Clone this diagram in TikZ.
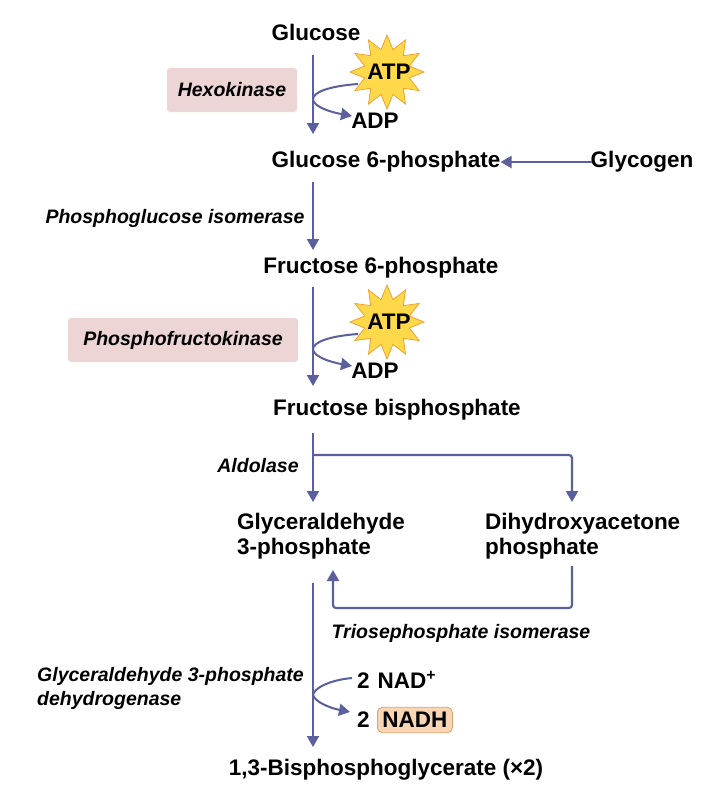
\documentclass[tikz,border=0pt]{standalone}
\usepackage{fontspec}
\setmainfont{Liberation Sans}
\usetikzlibrary{shapes.misc,shapes.geometric,arrows.meta}
\definecolor{arr}{HTML}{5B5F9C}
\definecolor{pinkbox}{HTML}{EDD5D5}
\definecolor{nadhbox}{HTML}{F8D5B3}
\definecolor{nadhline}{HTML}{D9A273}
\definecolor{staryel}{HTML}{FFD94A}
\definecolor{starline}{HTML}{F0A030}
\begin{document}
\begin{tikzpicture}[x=1pt,y=-1pt,
  lab/.style={font=\fontsize{22.5}{25}\selectfont\bfseries,inner sep=0pt},
  enz/.style={font=\fontsize{19.5}{24}\selectfont\bfseries\itshape,inner sep=0pt},
  flow/.style={draw=arr,line width=2.2pt,-{Triangle[length=11pt,width=12pt]}},
  side/.style={draw=arr,line width=2pt,-{Triangle[length=11pt,width=12pt]}},
  ebox/.style={fill=pinkbox,rounded corners=3pt},
  burst/.style={star,star points=12,star point ratio=1.6,minimum size=74pt,fill=staryel,draw=starline,line width=0.8pt,inner sep=0pt}]
\useasboundingbox (0,0) rectangle (718,790);
% nodes
\node[lab] (glc) at (316,32) {Glucose};
\node[ebox,minimum width=130pt,minimum height=44pt] (hkbox) at (232,90) {};
\node[enz] (hk) at (232,90) {Hexokinase};
\node[burst] (s1) at (387,72) {};
\node[lab] (atp1) at (389,72) {ATP};
\node[lab] (adp1) at (375,121) {ADP};
\node[lab] (g6p) at (386,162) {Glucose 6-phosphate};
\node[lab] (gly) at (642,162) {Glycogen};
\node[enz] (pgi) at (175,218) {Phosphoglucose isomerase};
\node[lab] (f6p) at (381,268) {Fructose 6-phosphate};
\node[ebox,minimum width=230pt,minimum height=44pt] (pfkbox) at (183,340) {};
\node[enz] (pfk) at (183,340) {Phosphofructokinase};
\node[burst] (s2) at (387,322) {};
\node[lab] (atp2) at (389,322) {ATP};
\node[lab] (adp2) at (375,371) {ADP};
\node[lab] (fbp) at (397,410) {Fructose bisphosphate};
\node[enz] (ald) at (258,466) {Aldolase};
\node[lab,align=left,anchor=west] (gap) at (237,536) {Glyceraldehyde\\3-phosphate};
\node[lab,align=left,anchor=west] (dhap) at (485,536) {Dihydroxyacetone\\phosphate};
\node[enz] (tpi) at (461,633) {Triosephosphate isomerase};
\node[enz,align=left,anchor=west] (gapdh) at (37,688) {Glyceraldehyde 3-phosphate\\dehydrogenase};
\node[lab,anchor=west] (nad) at (357,680) {2\hspace{8pt}NAD\textsuperscript{+}};
\node[lab,anchor=west] (two) at (357,720) {2};
\node[lab,anchor=west,fill=nadhbox,draw=nadhline,line width=0.8pt,rounded corners=5pt,inner xsep=5pt,inner ysep=5pt] (nadh) at (377,720) {NADH};
\node[lab] (bpg) at (386,770) {1,3-Bisphosphoglycerate (×2)};
% coordinates
\coordinate (a1s) at (313,55); \coordinate (a1e) at (313,134);
\coordinate (a2s) at (313,182); \coordinate (a2e) at (313,250);
\coordinate (a3s) at (313,287); \coordinate (a3e) at (313,386);
\coordinate (a4s) at (313,433); \coordinate (a4e) at (313,502);
\coordinate (a5s) at (313,583); \coordinate (a5e) at (313,747);
\coordinate (gs) at (592,162);
% arrows
\draw[flow] (a1s) -- (a1e);
\draw[side] (358,84) .. controls (330,86) and (312,92) .. (313,100) .. controls (315,107) and (330,112) .. (352,116);
\draw[flow] (gs) -- (g6p.east);
\draw[flow] (a2s) -- (a2e);
\draw[flow] (a3s) -- (a3e);
\draw[side] (358,334) .. controls (330,336) and (312,342) .. (313,350) .. controls (315,357) and (330,362) .. (352,366);
\draw[flow] (a4s) -- (a4e);
\draw[draw=arr,line width=2.2pt,-{Triangle[length=11pt,width=12pt]},rounded corners=3pt] (313,455) -- (572,455) -- (572,502);
\draw[draw=arr,line width=2.2pt,-{Triangle[length=11pt,width=12pt]},rounded corners=3pt] (572,566) -- (572,608) -- (333,608) -- (333,570);
\draw[flow] (a5s) -- (a5e);
\draw[side] (352,678) .. controls (330,680) and (314,688) .. (313,695) .. controls (315,702) and (330,708) .. (350,712);
\end{tikzpicture}
\end{document}
